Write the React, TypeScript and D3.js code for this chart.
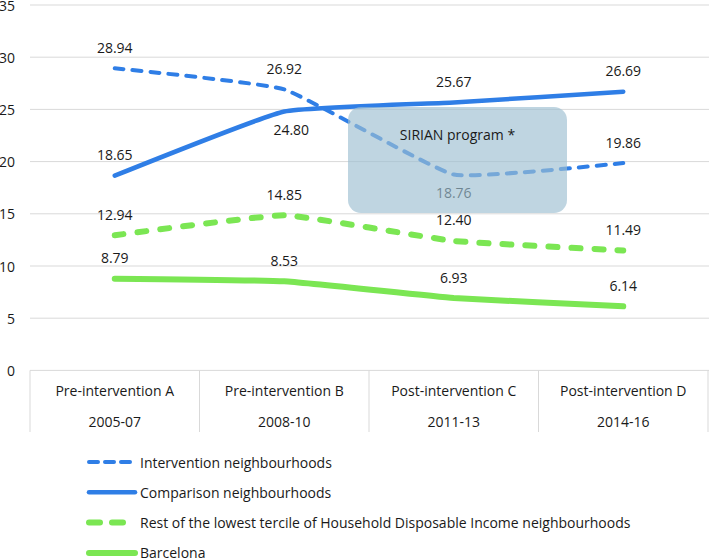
import React from "react";
import * as d3 from "d3";

const categories = ["Pre-intervention A", "Pre-intervention B", "Post-intervention C", "Post-intervention D"];
const periods = ["2005-07", "2008-10", "2011-13", "2014-16"];
const intervention = [28.94, 26.92, 18.76, 19.86];
const comparison = [18.65, 24.8, 25.67, 26.69];
const restLowest = [12.94, 14.85, 12.4, 11.49];
const barcelona = [8.79, 8.53, 6.93, 6.14];
const yTicks = [0, 5, 10, 15, 20, 25, 30, 35];
const boxText = "SIRIAN program *";

const BLUE = "#2F7EE6";
const GREEN = "#7BE653";
const GRID = "#D9D9D9";
const FONT = "'Open Sans', sans-serif";

type Series = {
  name: string;
  values: number[];
  color: string;
  width: number;
  dash: string | null;
  below: number[];
  legendDash: string | null;
};

const series: Series[] = [
  { name: "Intervention neighbourhoods", values: intervention, color: BLUE, width: 4, dash: "9,9", below: [2], legendDash: "9,7" },
  { name: "Comparison neighbourhoods", values: comparison, color: BLUE, width: 4.5, dash: null, below: [1], legendDash: null },
  { name: "Rest of the lowest tercile of Household Disposable Income neighbourhoods", values: restLowest, color: GREEN, width: 6, dash: "9,14", below: [], legendDash: "11,12" },
  { name: "Barcelona", values: barcelona, color: GREEN, width: 6, dash: null, below: [], legendDash: null },
];

export default function App() {
  const W = 709;
  const H = 558;
  const left = 30;
  const right = 708;
  const top = 5;
  const bottom = 370.4;

  const x = d3.scaleBand<string>().domain(categories).range([left, right]);
  const cx = (i: number) => (x(categories[i]) as number) + x.bandwidth() / 2;
  const y = d3.scaleLinear().domain([0, 35]).range([bottom, top]);

  const line = d3
    .line<number>()
    .x((_, i) => cx(i))
    .y((d) => y(d))
    .curve(d3.curveCardinal.tension(0.65));

  const boxX0 = 348, boxX1 = 567, boxY0 = 107, boxY1 = 213;

  const legendY0 = 462;
  const legendStep = 30.3;

  return (
    <svg
      width={W}
      height={H}
      style={{ position: "absolute", left: 0, top: 0, display: "block", background: "#fff" }}
      fontFamily={FONT}
    >
      {/* grid */}
      {yTicks.map((t) => (
        <g key={t}>
          <line x1={left} x2={right + 1} y1={y(t)} y2={y(t)} stroke={GRID} strokeWidth={1} />
          <text x={15} y={y(t)} textAnchor="end" dominantBaseline="central" fontSize={14} fill="#1a1a1a">
            {t}
          </text>
        </g>
      ))}

      {/* category table */}
      {d3.range(categories.length + 1).map((i) => {
        const xx = i < categories.length ? (x(categories[i]) as number) : right;
        return <line key={i} x1={xx} x2={xx} y1={bottom} y2={432} stroke={GRID} strokeWidth={1} />;
      })}
      {categories.map((c, i) => (
        <g key={c}>
          <text x={cx(i)} y={396} textAnchor="middle" fontSize={14} fill="#1a1a1a">
            {c}
          </text>
          <text x={cx(i)} y={427} textAnchor="middle" fontSize={14} fill="#1a1a1a">
            {periods[i]}
          </text>
        </g>
      ))}

      {/* lines */}
      {series.map((s) => (
        <path
          key={s.name}
          d={line(s.values) || ""}
          fill="none"
          stroke={s.color}
          strokeWidth={s.width}
          strokeDasharray={s.dash || undefined}
          strokeLinecap="round"
          strokeLinejoin="round"
        />
      ))}

      {/* data labels */}
      {series.map((s) =>
        s.values.map((v, i) => {
          const below = s.below.includes(i);
          return (
            <text
              key={s.name + i}
              x={cx(i) + (below && i === 1 ? 7 : 0)}
              y={y(v) + (below ? 18 : -21)}
              textAnchor="middle"
              dominantBaseline="central"
              fontSize={14}
              fill="#1a1a1a"
            >
              {v.toFixed(2)}
            </text>
          );
        })
      )}

      {/* SIRIAN box */}
      <rect
        x={boxX0}
        y={boxY0}
        width={boxX1 - boxX0}
        height={boxY1 - boxY0}
        rx={13}
        ry={13}
        fill="#9DBFD1"
        fillOpacity={0.65}
      />
      <text
        x={(boxX0 + boxX1) / 2}
        y={134}
        textAnchor="middle"
        dominantBaseline="central"
        fontSize={14}
        fill="#1a1a1a"
      >
        {boxText}
      </text>

      {/* legend */}
      {series.map((s, i) => {
        const ly = legendY0 + i * legendStep;
        return (
          <g key={s.name}>
            <line
              x1={89}
              x2={135}
              y1={ly}
              y2={ly}
              stroke={s.color}
              strokeWidth={s.width}
              strokeDasharray={s.legendDash || undefined}
              strokeLinecap="round"
            />
            <text x={140} y={ly} dominantBaseline="central" fontSize={14} fill="#1a1a1a">
              {s.name}
            </text>
          </g>
        );
      })}
    </svg>
  );
}
